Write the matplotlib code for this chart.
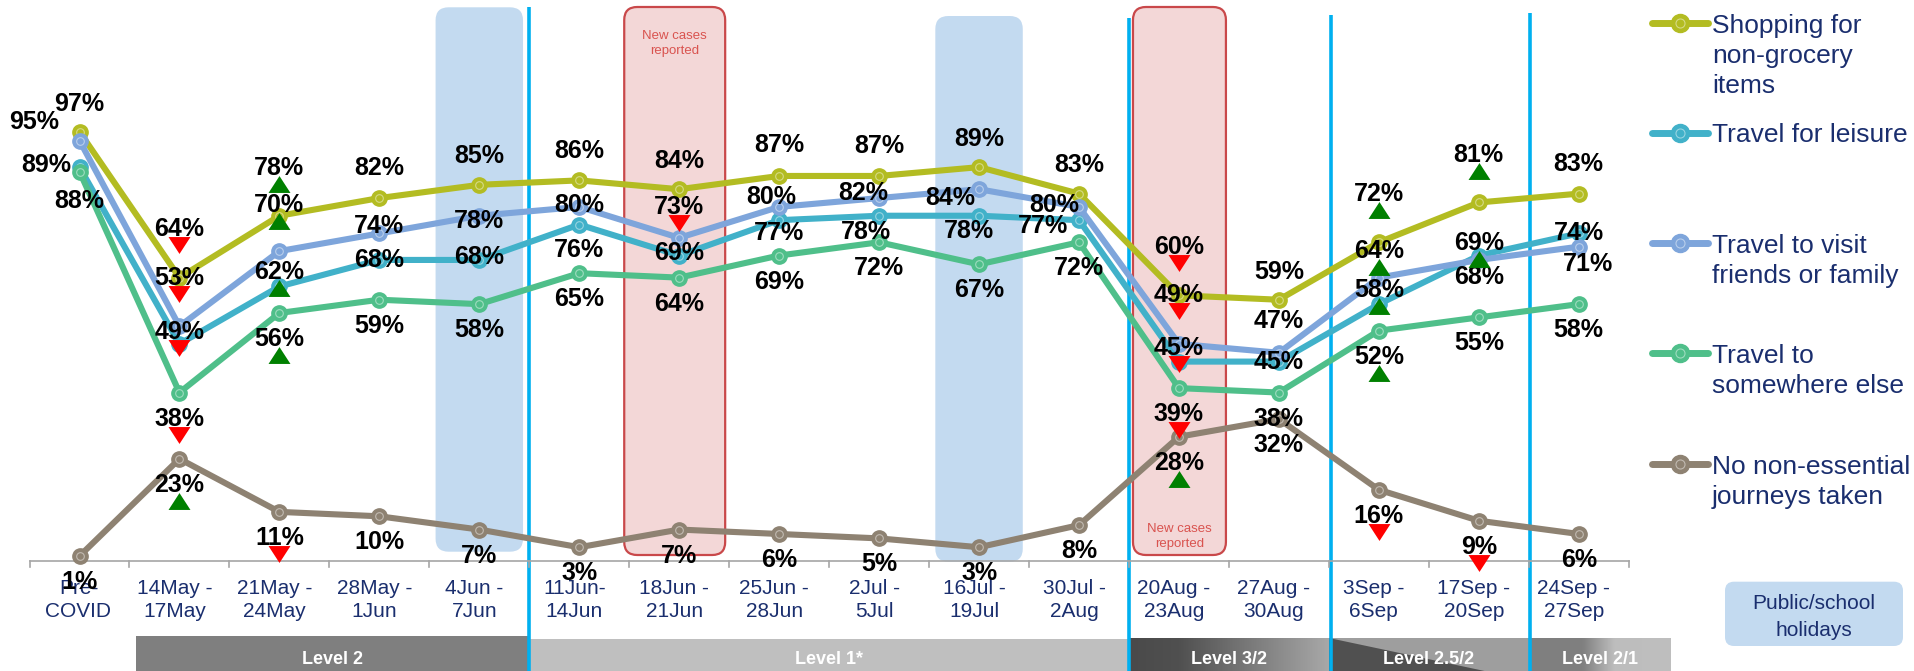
import matplotlib
matplotlib.use("Agg")
import matplotlib.pyplot as plt
import numpy as np
from matplotlib.patches import FancyBboxPatch, Rectangle, Polygon
from matplotlib.colors import LinearSegmentedColormap, to_rgb
from matplotlib.transforms import offset_copy
from matplotlib.path import Path

# ---------------- data ----------------
categories = ["Pre-\nCOVID", "14May -\n17May", "21May -\n24May", "28May -\n1Jun",
              "4Jun -\n7Jun", "11Jun-\n14Jun", "18Jun -\n21Jun", "25Jun -\n28Jun",
              "2Jul -\n5Jul", "16Jul -\n19Jul", "30Jul -\n2Aug", "20Aug -\n23Aug",
              "27Aug -\n30Aug", "3Sep -\n6Sep", "17Sep -\n20Sep", "24Sep -\n27Sep"]

shopping    = [97, 64, 78, 82, 85, 86, 84, 87, 87, 89, 83, 60, 59, 72, 81, 83]
leisure     = [89, 49, 62, 68, 68, 76, 69, 77, 78, 78, 77, 45, 45, 58, 69, 74]
visiting    = [95, 53, 70, 74, 78, 80, 73, 80, 82, 84, 80, 49, 47, 64, 68, 71]
elsewhere   = [88, 38, 56, 59, 58, 65, 64, 69, 72, 67, 72, 39, 38, 52, 55, 58]
no_journeys = [1, 23, 11, 10, 7, 3, 7, 6, 5, 3, 8, 28, 32, 16, 9, 6]

# significant change vs previous wave: +1 increase, -1 decrease, 0 none
shopping_sig    = [0, -1, 1, 0, 0, 0, 0, 0, 0, 0, 0, -1, 0, 1, 1, 0]
leisure_sig     = [0, -1, 1, 0, 0, 0, 0, 0, 0, 0, 0, -1, 0, 1, 1, 0]
visiting_sig    = [0, -1, 1, 0, 0, 0, -1, 0, 0, 0, 0, -1, 0, 1, 0, 0]
elsewhere_sig   = [0, -1, 1, 0, 0, 0, 0, 0, 0, 0, 0, -1, 0, 1, 0, 0]
no_journeys_sig = [0, 1, -1, 0, 0, 0, 0, 0, 0, 0, 0, 1, 0, -1, -1, 0]

series_labels = ["Shopping for\nnon-grocery\nitems", "Travel for leisure",
                 "Travel to visit\nfriends or family", "Travel to\nsomewhere else",
                 "No non-essential\njourneys taken"]

level_names = ["Level 2", "Level 1*", "Level 3/2", "Level 2.5/2", "Level 2/1"]
holiday_weeks = [4, 9]
new_case_weeks = [6, 11]

# ---------------- layout ----------------
W, H = 1915, 671
X0, XS = 79.5, 99.95     # pixel x of first category, pixels per category
Y0, YS = 560.5, 4.42     # pixel y of 0 %, pixels per percentage point


def vy(py):
    """pixel row -> value units"""
    return (Y0 - py) / YS


FONT = "Liberation Sans"
NAVY = "#1A2E6E"

plt.rcParams["font.family"] = [FONT, "DejaVu Sans"]

fig = plt.figure(figsize=(W / 100, H / 100), dpi=100)
ax = fig.add_axes([0, 0, 1, 1])
ax.axis("off")

ASPECT = XS / YS

# public / school holiday bands
for wk, top, bot in zip(holiday_weeks, [7.3, 16.0], [551.7, 561.7]):
    w = 0.875
    box = FancyBboxPatch((wk - w / 2, vy(bot)), w, vy(top) - vy(bot),
                         boxstyle="round,pad=0,rounding_size=0.13",
                         mutation_aspect=ASPECT, fc="#C3DAF0", ec="none", zorder=1)
    ax.add_patch(box)

# new-case bands
for wk, cx, w, txt_top in zip(new_case_weeks, [5.955, 11.005], [1.01, 0.93], [29.6, 522.6]):
    box = FancyBboxPatch((cx - w / 2, vy(555)), w, vy(7) - vy(555),
                         boxstyle="round,pad=0,rounding_size=0.13",
                         mutation_aspect=ASPECT, fc="#F3D7D7", ec="#C9484A",
                         lw=1.6, zorder=1)
    ax.add_patch(box)
    ax.text(cx, vy(txt_top), "New cases\nreported", ha="center", va="top",
            multialignment="center", fontsize=9.5, color="#D9534F",
            linespacing=1.37, zorder=2)

# alert-level bar along the bottom
vb = vy(H + 2)
level_spans = [(0.565, 4.5, 636), (4.5, 10.5, 639), (10.5, 12.5, 638),
               (12.5, 14.5, 638), (14.5, 15.92, 638)]
grad = np.linspace(0, 1, 256).reshape(1, -1)
for name, (a, b, top) in zip(level_names, level_spans):
    vt = vy(top)
    if name == "Level 2":
        ax.add_patch(Rectangle((a, vb), b - a, vt - vb, fc="#7F7F7F", ec="none", zorder=2))
    elif name == "Level 1*":
        ax.add_patch(Rectangle((a, vb), b - a, vt - vb, fc="#BFBFBF", ec="none", zorder=2))
    elif name == "Level 3/2":
        cm = LinearSegmentedColormap.from_list(
            "l32", [(0, "#4A4A4A"), (0.25, "#505050"), (1, "#A8A8A8")])
        ax.imshow(grad, extent=(a, b, vb, vt), aspect="auto", cmap=cm,
                  interpolation="bilinear", zorder=2)
    elif name == "Level 2.5/2":
        ax.add_patch(Rectangle((a, vb), b - a, vt - vb, fc="#9E9E9E", ec="none", zorder=2))
        ax.add_patch(Polygon([(a, vt), (a, vb), (14.15, vb)], closed=True,
                             fc="#505050", ec="none", zorder=2))
    else:
        cm = LinearSegmentedColormap.from_list(
            "l21", [(0, "#7F7F7F"), (0.38, "#808080"), (0.6, "#BDBDBD"), (1, "#BFBFBF")])
        ax.imshow(grad, extent=(a, b, vb, vt), aspect="auto", cmap=cm,
                  interpolation="bilinear", zorder=2)
    ax.text((a + b) / 2, vy(664.2), name, ha="center", va="baseline",
            fontsize=13, fontweight="bold", color="white", zorder=4)

# alert-level change lines
for xb, top in zip([4.5, 10.5, 12.52, 14.51], [7, 18, 15, 13]):
    ax.plot([xb, xb], [vb, vy(top)], color="#00B0F0", lw=2.6, zorder=3,
            solid_capstyle="butt")

# category axis
n = len(categories)
ax.plot([-0.5, n - 0.5], [0, 0], color="#A6A6A6", lw=1.2, zorder=3)
for k in range(n + 1):
    ax.plot([k - 0.5, k - 0.5], [0, vy(Y0 + 6)], color="#A6A6A6", lw=1.2, zorder=3)
for k, lab in enumerate(categories):
    shift = -1 if k == 0 else -5
    ax.annotate(lab, (k, vy(579.2)), xytext=(shift, 0), textcoords="offset pixels",
                ha="center", va="top", multialignment="center",
                fontsize=15, color=NAVY, linespacing=1.27, zorder=4)

# ---------------- series ----------------
x = np.arange(n)
series = [
    (shopping, shopping_sig, "#B3BC22",
     [(0, -30), (0, -51), (0, -50), (0, -32), (0, -31), (0, -31), (0, -30), (0, -33),
      (0, -32), (0, -30), (0, -31), (0, -50), (0, -30), (0, -50), (0, -49), (0, -32)]),
    (leisure, leisure_sig, "#41B1C9",
     [(-33, -4), (0, -14), (0, -16), (0, -2), (0, -5), (0, 23), (0, -5), (0, 11),
      (-13, 14), (-10, 13), (-36, 4), (0, -16), (0, -2), (0, -16), (0, -15), (0, -2)]),
    (visiting, visiting_sig, "#7EA5DB",
     [(-45, -21), (0, -50), (0, -48), (0, -9), (0, 3), (0, -4), (0, -33), (-8, -12),
      (-16, -7), (-29, 7), (-25, -4), (0, -51), (0, -34), (0, -29), (0, 15), (9, 15)]),
    (elsewhere, elsewhere_sig, "#4FBF8A", [(0, 27)] + [(0, 24)] * 15),
    (no_journeys, no_journeys_sig, "#8E8272", [(0, 24)] * 16),
]

tri_up = Path([(0, 0.77), (-1, -0.77), (1, -0.77), (0, 0.77)],
              [Path.MOVETO, Path.LINETO, Path.LINETO, Path.CLOSEPOLY])
tri_down = Path([(0, -0.77), (-1, 0.77), (1, 0.77), (0, -0.77)],
                [Path.MOVETO, Path.LINETO, Path.LINETO, Path.CLOSEPOLY])


def lighten(c, f):
    r, g, b = to_rgb(c)
    return (r + (1 - r) * f, g + (1 - g) * f, b + (1 - b) * f)


for z, (vals, sig, col, offs) in enumerate(series):
    ax.plot(x, vals, color=col, lw=4.4, marker="o", ms=11, mfc=col, mec=col,
            zorder=5 + z, solid_capstyle="round", solid_joinstyle="round")
    ax.plot(x, vals, ls="none", marker="o", ms=5.5, mfc="none",
            mec=lighten(col, 0.45), mew=0.8, zorder=5 + z)
    for k, (v, s, (dx, dy)) in enumerate(zip(vals, sig, offs)):
        ax.annotate(f"{v}%", (k, v), xytext=(dx, -(dy + 9)), textcoords="offset pixels",
                    ha="center", va="baseline", fontsize=18, fontweight="bold",
                    color="black", zorder=20)
        if s:
            tr = offset_copy(ax.transData, fig=fig, x=dx, y=-(dy + 18), units="dots")
            ax.plot([k], [v], ls="none", marker=tri_up if s > 0 else tri_down,
                    ms=15.8, color="#008000" if s > 0 else "#FF0000",
                    mec="none", transform=tr, zorder=21)

ax.set_xlim(-X0 / XS, (W - X0) / XS)
ax.set_ylim((Y0 - H) / YS, Y0 / YS)

# ---------------- legend (pixel space) ----------------
ov = fig.add_axes([0, 0, 1, 1])
ov.set_xlim(0, W)
ov.set_ylim(H, 0)
ov.axis("off")
ov.patch.set_visible(False)

legend_rows = [23.0, 132.7, 243.3, 353.3, 464.0]
for (vals, sig, col, offs), lab, yrow in zip(series, series_labels, legend_rows):
    ov.plot([1652, 1708], [yrow, yrow], color=col, lw=5, solid_capstyle="round")
    ov.plot([1680], [yrow], marker="o", ms=13, mfc=col, mec=col)
    ov.plot([1680], [yrow], marker="o", ms=6.5, mfc="none", mec=lighten(col, 0.45), mew=0.8)
    ov.text(1712, yrow - 9.45, lab, ha="left", va="top", fontsize=19,
            color=NAVY, linespacing=1.32)

hol = FancyBboxPatch((1725, 581.7), 178, 64.3, boxstyle="round,pad=0,rounding_size=9",
                     fc="#C3DAF0", ec="none")
ov.add_patch(hol)
ov.text(1814, 594.2, "Public/school\nholidays", ha="center", va="top",
        multialignment="center", fontsize=15, color=NAVY, linespacing=1.49)

fig.savefig("out.png", dpi=100)
